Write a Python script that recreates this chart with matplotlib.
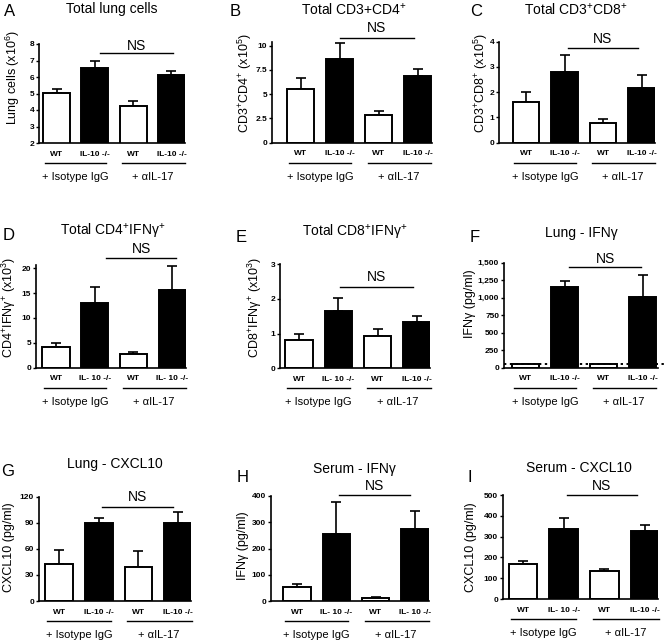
import matplotlib
matplotlib.use('Agg')
import matplotlib.pyplot as plt
import matplotlib.transforms as mtrans
from matplotlib.lines import Line2D

plt.rcParams['font.family'] = ['Liberation Sans', 'DejaVu Sans']
plt.rcParams['mathtext.fontset'] = 'custom'
plt.rcParams['mathtext.rm'] = 'Liberation Sans'
plt.rcParams['mathtext.it'] = 'Liberation Sans:italic'
plt.rcParams['mathtext.bf'] = 'Liberation Sans:bold'

# ---------------- data ----------------
groups = ['+ Isotype IgG', '+ \u03b1IL-17']
fills = ['white', 'black', 'white', 'black']
cats_std = ['WT', 'IL-10 -/-', 'WT', 'IL-10 -/-']
cats_D = ['WT', 'IL- 10 -/-', 'WT', 'IL- 10 -/-']
cats_E = ['WT', 'IL- 10 -/-', 'WT', 'IL-10 -/-']
cats_H = ['WT', 'IL- 10 -/-', 'WT', 'IL- 10 -/-']
cats_I = ['WT', 'IL- 10 -/-', 'WT', 'IL-10 -/-']

A_mean = [5.01, 6.55, 4.27, 6.13]
A_sem = [0.29, 0.45, 0.26, 0.25]
B_mean = [5.5, 8.66, 2.85, 6.84]
B_sem = [1.2, 1.64, 0.41, 0.76]
C_mean = [1.6, 2.8, 0.8, 2.15]
C_sem = [0.4, 0.67, 0.14, 0.55]
D_mean = [4.1, 13.1, 2.7, 15.6]
D_sem = [0.87, 3.2, 0.5, 4.9]
E_mean = [0.82, 1.65, 0.94, 1.33]
E_sem = [0.16, 0.37, 0.18, 0.18]
F_mean = [50, 1155, 50, 1010]
F_sem = [0, 80, 0, 310]
F_lod = 50
G_mean = [42, 89.5, 39.5, 90]
G_sem = [17, 5.5, 18.5, 12]
H_mean = [55, 255, 10, 274]
H_sem = [10, 123, 4, 69]
I_mean = [168, 335, 135, 327]
I_sem = [15, 53, 11, 27]

A_ticks = [2, 3, 4, 5, 6, 7, 8]
B_ticks = [0, 2.5, 5, 7.5, 10]
C_ticks = [0, 1, 2, 3, 4]
D_ticks = [0, 5, 10, 15, 20]
E_ticks = [0, 1, 2, 3]
F_ticks = [0, 250, 500, 750, 1000, 1250, 1500]
G_ticks = [0, 30, 60, 90, 120]
H_ticks = [0, 100, 200, 300, 400]
I_ticks = [0, 100, 200, 300, 400, 500]

sup = lambda s: '$^{\\mathregular{' + s + '}}$'

panels = [
    dict(letter='A', title='Total lung cells', ylabel='Lung cells (x10' + sup('6') + ')',
         mean=A_mean, sem=A_sem, ylim=(2, 8), ticks=A_ticks, tl=[str(t) for t in A_ticks], cats=cats_std,
         ns=(7.46, 7.9, 1.13, 3.03),
         box=(39, 185, 44, 143, 56.5, 38.3), lpos=(10, 12), tpos=(112, 9), ylpos=(13, 78)),
    dict(letter='B', title='Total CD3+CD4' + sup('+'), ylabel='CD3' + sup('+') + 'CD4' + sup('+') + ' (x10' + sup('5') + ')',
         mean=B_mean, sem=B_sem, ylim=(0, 10.4), ticks=B_ticks, tl=['0', '2.5', '5', '7.5', '10'], cats=cats_std,
         ns=(10.8, 11.8, 1.0, 2.9),
         box=(272, 432, 41.8, 142.7, 300.5, 39.1), lpos=(235, 11), tpos=(354, 10), ylpos=(245, 83)),
    dict(letter='C', title='Total CD3' + sup('+') + 'CD8' + sup('+'), ylabel='CD3' + sup('+') + 'CD8' + sup('+') + ' (x10' + sup('5') + ')',
         mean=C_mean, sem=C_sem, ylim=(0, 4), ticks=C_ticks, tl=[str(t) for t in C_ticks], cats=cats_std,
         ns=(3.74, 4.1, 1.08, 2.9),
         box=(499, 655, 41.7, 142.7, 526, 38.5), lpos=(476, 11), tpos=(576, 10), ylpos=(481, 83)),
    dict(letter='D', title='Total CD4' + sup('+') + 'IFN\u03b3' + sup('+'), ylabel='CD4' + sup('+') + 'IFN\u03b3' + sup('+') + ' (x10' + sup('3') + ')',
         mean=D_mean, sem=D_sem, ylim=(0, 20.7), ticks=D_ticks, tl=[str(t) for t in D_ticks], cats=cats_D,
         ns=(22.1, 23.9, 1.3, 3.1),
         box=(36, 186, 264.8, 367.7, 56, 38.7), lpos=(9, 236), tpos=(113, 231), ylpos=(9, 307)),
    dict(letter='E', title='Total CD8' + sup('+') + 'IFN\u03b3' + sup('+'), ylabel='CD8' + sup('+') + 'IFN\u03b3' + sup('+') + ' (x10' + sup('3') + ')',
         mean=E_mean, sem=E_sem, ylim=(0, 3), ticks=E_ticks, tl=[str(t) for t in E_ticks], cats=cats_E,
         ns=(2.35, 2.62, 1.05, 2.89),
         box=(280, 430, 264.3, 368.3, 299, 39.3), lpos=(241, 237), tpos=(355, 232), ylpos=(255, 307)),
    dict(letter='F', title='Lung - IFN\u03b3', ylabel='IFN\u03b3 (pg/ml)',
         mean=F_mean, sem=F_sem, ylim=(0, 1500), ticks=F_ticks, tl=['{:,}'.format(t) for t in F_ticks], cats=cats_std,
         ns=(1434, 1549, 1.12, 2.97),
         box=(504, 658, 262.7, 367.7, 525.5, 39), lpos=(475, 237), tpos=(581, 233), ylpos=(470, 304)),
    dict(letter='G', title='Lung - CXCL10', ylabel='CXCL10 (pg/ml)',
         mean=G_mean, sem=G_sem, ylim=(0, 120), ticks=G_ticks, tl=[str(t) for t in G_ticks], cats=cats_std,
         ns=(108.5, 120, 1.08, 2.87),
         box=(39, 191, 496.7, 601, 59, 39.7), lpos=(8, 472), tpos=(115, 464), ylpos=(9, 547)),
    dict(letter='H', title='Serum - IFN\u03b3', ylabel='IFN\u03b3 (pg/ml)',
         mean=H_mean, sem=H_sem, ylim=(0, 400), ticks=H_ticks, tl=[str(t) for t in H_ticks], cats=cats_H,
         ns=(404, 438, 1.07, 2.88),
         box=(271, 429, 496, 601, 297, 39.3), lpos=(243, 477), tpos=(354, 469), ylpos=(243, 546)),
    dict(letter='I', title='Serum - CXCL10', ylabel='CXCL10 (pg/ml)',
         mean=I_mean, sem=I_sem, ylim=(0, 500), ticks=I_ticks, tl=[str(t) for t in I_ticks], cats=cats_I,
         ns=(500, 543, 1.08, 2.8),
         box=(503, 658, 495, 599, 523, 40.7), lpos=(470, 477), tpos=(579, 468), ylpos=(471, 547)),
]

W, H = 666, 643
fig = plt.figure(figsize=(W / 100, H / 100), dpi=100)

for p in panels:
    left, right, top, bottom, c0, s = p['box']
    ax = fig.add_axes([left / W, 1 - bottom / H, (right - left) / W, (bottom - top) / H])
    xs = list(range(4))
    ax.bar(xs, p['mean'], width=0.7, color=fills, edgecolor='black', linewidth=1.4, zorder=2)
    ax.errorbar(xs, p['mean'], yerr=[[0] * 4, p['sem']], fmt='none', ecolor='black',
                elinewidth=1.2, capsize=3.8, capthick=1.2, zorder=1)
    ax.set_xlim((left - c0) / s, (right - c0) / s)
    ax.set_ylim(*p['ylim'])
    ax.set_yticks(p['ticks'])
    ax.set_yticklabels(p['tl'], fontsize=6, fontweight='bold')
    ax.set_xticks([])
    for sp in ['top', 'right']:
        ax.spines[sp].set_visible(False)
    for sp in ['left', 'bottom']:
        ax.spines[sp].set_linewidth(1.2)
    ax.tick_params(axis='y', length=2.5, width=1.0, pad=1.0)
    ax.patch.set_alpha(0)

    # category labels, group lines and group labels
    blend = mtrans.blended_transform_factory(ax.transData, ax.transAxes)
    def off(px):
        return blend + mtrans.ScaledTranslation(0, -px / 100, fig.dpi_scale_trans)
    for x, c in zip(xs, p['cats']):
        ax.text(x, 0, c, transform=off(11), ha='center', va='center', fontsize=6, fontweight='bold')
    for (x0, x1), g, gx in zip([(-0.3, 1.3), (1.72, 3.35)], groups, [0.5, 2.52]):
        ax.add_line(Line2D([x0, x1], [0, 0], transform=off(20), color='black', lw=1.0, clip_on=False))
        ax.text(gx, 0, g, transform=off(34), ha='center', va='center', fontsize=8)

    # NS annotation
    yl, yt, x0, x1 = p['ns']
    ax.plot([x0, x1], [yl, yl], color='black', lw=1.0, clip_on=False)
    ax.text((x0 + x1) / 2, yt, 'NS', ha='center', va='center', fontsize=10)

    if p['letter'] == 'F':
        ax.plot([(left - c0) / s, (666 - c0) / s], [F_lod, F_lod], color='black', lw=1.4,
                linestyle=(0, (1.2, 1.8)), clip_on=False, zorder=3)

    # y label
    ax.set_ylabel(p['ylabel'], fontsize=9)
    ax.yaxis.set_label_coords((p['ylpos'][0] - left) / (right - left), (bottom - p['ylpos'][1]) / (bottom - top))
    ax.yaxis.label.set_verticalalignment('center')

    # title and panel letter
    fig.text(p['tpos'][0] / W, 1 - p['tpos'][1] / H, p['title'], ha='center', va='center', fontsize=10)
    fig.text(p['lpos'][0] / W, 1 - p['lpos'][1] / H, p['letter'], ha='center', va='center', fontsize=12)

fig.savefig('out.png', dpi=100)
